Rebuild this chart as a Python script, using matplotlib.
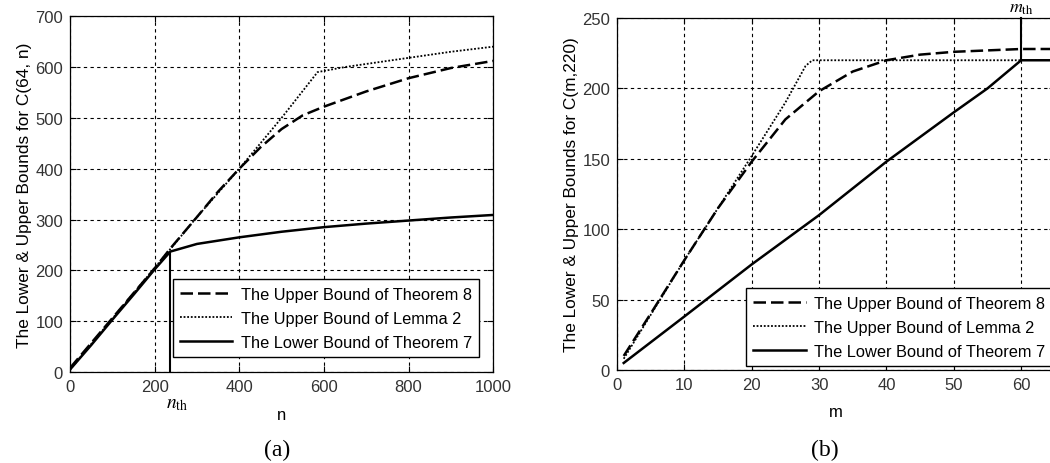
import numpy as np
import matplotlib.pyplot as plt

# panel (a): bounds for C(64, n)
n = [0, 50, 100, 150, 200, 237, 300, 350, 400, 450, 500, 550, 600, 700, 800, 900, 1000]
thm8_a = [8, 57, 106, 155, 204, 243, 305, 355, 400, 442, 478, 505, 522, 552, 578, 598, 612]
n_lem = [0, 100, 200, 300, 400, 500, 585, 650, 800, 900, 1000]
lem2_a = [5, 105, 205, 305, 400, 500, 590, 600, 618, 630, 640]
n_low = [0, 50, 100, 150, 200, 237, 300, 400, 500, 600, 700, 800, 900, 1000]
thm7_a = [5, 53, 103, 152, 202, 237, 252, 265, 276, 285, 292, 298, 304, 309]
n_th = 237

# panel (b): bounds for C(m, 220)
m = [1, 5, 10, 15, 20, 25, 30, 35, 40, 45, 50, 55, 60, 65]
thm8_b = [10, 40, 78, 115, 148, 178, 198, 212, 220, 224, 226, 227, 228, 228]
m_lem = [1, 10, 20, 25, 28, 29, 40, 50, 60]
lem2_b = [8, 78, 152, 190, 216, 220, 220, 220, 220]
m_low = [1, 10, 20, 30, 40, 50, 55, 60, 65]
thm7_b = [5, 38, 75, 110, 148, 183, 200, 220, 220]
m_th = 60

labels = ['The Upper Bound of Theorem 8', 'The Upper Bound of Lemma 2',
          'The Lower Bound of Theorem 7']

plt.rcParams['font.family'] = ['Liberation Sans', 'DejaVu Sans']
plt.rcParams['mathtext.fontset'] = 'stix'

fig = plt.figure(figsize=(10.5, 4.64), dpi=100)
ax1 = fig.add_axes([0.0667, 0.196, 0.403, 0.767])
ax2 = fig.add_axes([0.5876, 0.2004, 0.417, 0.7586])


def style(ax):
    ax.grid(True, color='k', linestyle=(0, (3, 3)), linewidth=0.8)
    ax.tick_params(direction='in', length=4, labelsize=12, colors='k',
                   top=True, right=True, labelcolor='#333333', pad=5)
    for s in ax.spines.values():
        s.set_linewidth(0.9)


leg_kw = dict(fontsize=11.8, handlelength=3.2, fancybox=False, edgecolor='k',
              framealpha=1, borderpad=0.45, labelspacing=0.55, handletextpad=0.5,
              borderaxespad=0)

ax1.plot(n, thm8_a, 'k', linestyle=(0, (5, 2)), lw=1.8, label=labels[0])
ax1.plot(n_lem, lem2_a, 'k', linestyle=(0, (1, 1)), lw=1.3, label=labels[1])
ax1.plot(n_low, thm7_a, 'k-', lw=1.8, label=labels[2])
ax1.plot([n_th, n_th], [0, thm7_a[5]], 'k-', lw=1.5)
ax1.set_xlim(0, 1000)
ax1.set_ylim(0, 700)
ax1.set_xticks(np.arange(0, 1001, 200))
ax1.set_yticks(np.arange(0, 701, 100))
style(ax1)
ax1.set_ylabel('The Lower & Upper Bounds for C(64, n)', fontsize=12.4, labelpad=2)
ax1.set_xlabel('n', fontsize=12, labelpad=9)
ax1.text(253, -62, r'$n_{\mathrm{th}}$', fontsize=14, ha='center', va='center')
ax1.legend(loc='lower right', bbox_to_anchor=(0.967, 0.042), **leg_kw)
fig.text(0.264, 0.018, '(a)', fontsize=17, family='Liberation Serif', ha='center')

ax2.plot(m, thm8_b, 'k', linestyle=(0, (5, 2)), lw=1.8, label=labels[0])
ax2.plot(m_lem, lem2_b, 'k', linestyle=(0, (1, 1)), lw=1.3, label=labels[1])
ax2.plot(m_low, thm7_b, 'k-', lw=1.8, label=labels[2])
ax2.plot([m_th, m_th], [220, 250], 'k-', lw=1.5, clip_on=False)
ax2.set_xlim(0, 65)
ax2.set_ylim(0, 250)
ax2.set_xticks(np.arange(0, 61, 10))
ax2.set_yticks(np.arange(0, 251, 50))
style(ax2)
ax2.set_ylabel('The Lower & Upper Bounds for C(m,220)', fontsize=12.4, labelpad=2)
ax2.set_xlabel('m', fontsize=12, labelpad=9)
ax2.text(m_th, 251.5, r'$m_{\mathrm{th}}$', fontsize=13, ha='center', va='bottom')
ax2.legend(loc='lower right', bbox_to_anchor=(0.995, 0.011), **leg_kw)
fig.text(0.786, 0.018, '(b)', fontsize=17, family='Liberation Serif', ha='center')

fig.savefig('out.png', dpi=100)
